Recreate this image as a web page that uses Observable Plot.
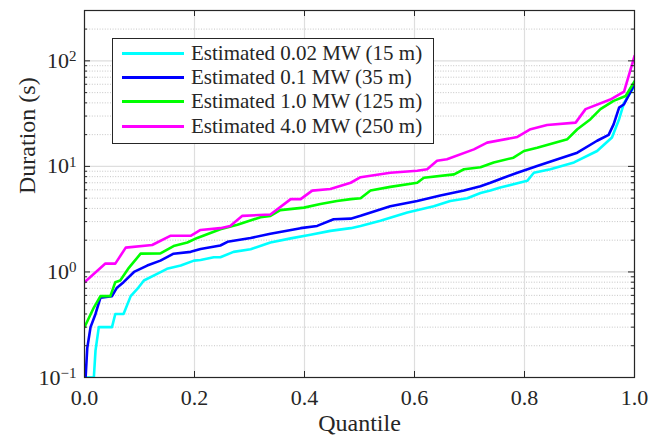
<!DOCTYPE html>
<html>
<head>
<meta charset="utf-8">
<script src="https://cdn.jsdelivr.net/npm/d3@7"></script>
<script src="https://cdn.jsdelivr.net/npm/@observablehq/plot@0.6"></script>
<style>
  html, body { margin: 0; padding: 0; background: white; }
  #wrap { position: relative; width: 649px; height: 441px; }
  #legend { position: absolute; left: 112px; top: 38px; width: 320px; height: 102px;
    border: 1px solid #262626; background: white; box-sizing: content-box;
    font-family: "Liberation Serif", "DejaVu Serif", serif; font-size: 21px; color: #262626; padding-top: 2px; }
  .row { height: 24.3px; display: flex; align-items: center; white-space: nowrap; }
  .sw { width: 62px; height: 3px; margin-left: 9px; margin-right: 7px; flex: none; }
</style>
</head>
<body>
<div id="wrap"></div>
<script>
// ---- data ----
const seriesNames = ["Estimated 0.02 MW (15 m)", "Estimated 0.1 MW (35 m)", "Estimated 1.0 MW (125 m)", "Estimated 4.0 MW (250 m)"];
const seriesColors = ["#00ffff", "#0000ff", "#00ff00", "#ff00ff"];

const qCyan = [0, 0.017, 0.02, 0.026, 0.05, 0.056, 0.071, 0.084, 0.096, 0.108, 0.132, 0.15, 0.175, 0.199, 0.211, 0.235, 0.247, 0.271, 0.302, 0.338, 0.375, 0.411, 0.447, 0.484, 0.502, 0.538, 0.587, 0.635, 0.665, 0.696, 0.72, 0.738, 0.756, 0.805, 0.817, 0.847, 0.89, 0.932, 0.959, 0.972, 0.981, 1.0];
const vCyan = [0.1, 0.1, 0.18, 0.3, 0.3, 0.4, 0.4, 0.59, 0.69, 0.83, 0.96, 1.07, 1.15, 1.28, 1.3, 1.38, 1.38, 1.55, 1.64, 1.9, 2.08, 2.25, 2.45, 2.6, 2.73, 3.05, 3.66, 4.2, 4.7, 5.0, 5.6, 5.9, 6.3, 7.3, 8.7, 9.4, 10.9, 14, 18.8, 28, 40, 58];

const qBlue = [0.002, 0.005, 0.011, 0.02, 0.029, 0.05, 0.059, 0.071, 0.09, 0.114, 0.138, 0.162, 0.193, 0.211, 0.247, 0.26, 0.302, 0.338, 0.393, 0.423, 0.453, 0.484, 0.502, 0.556, 0.605, 0.647, 0.69, 0.72, 0.738, 0.756, 0.787, 0.823, 0.86, 0.896, 0.932, 0.953, 0.962, 0.972, 0.981, 1.0];
const vBlue = [0.1, 0.19, 0.3, 0.4, 0.57, 0.59, 0.71, 0.8, 1.0, 1.15, 1.28, 1.49, 1.55, 1.65, 1.78, 1.93, 2.1, 2.3, 2.6, 2.73, 3.16, 3.2, 3.4, 4.2, 4.7, 5.3, 5.9, 6.5, 7.0, 7.6, 8.7, 10.1, 11.7, 13.5, 17.5, 19.9, 25, 36, 38.8, 60];

const qGreen = [0, 0.017, 0.029, 0.047, 0.056, 0.065, 0.081, 0.102, 0.138, 0.162, 0.187, 0.205, 0.235, 0.247, 0.278, 0.32, 0.338, 0.356, 0.399, 0.429, 0.459, 0.484, 0.502, 0.52, 0.556, 0.605, 0.617, 0.672, 0.69, 0.72, 0.744, 0.78, 0.799, 0.823, 0.878, 0.896, 0.92, 0.938, 0.962, 0.984, 1.0];
const vGreen = [0.3, 0.46, 0.59, 0.59, 0.8, 0.83, 1.1, 1.49, 1.5, 1.76, 1.9, 2.1, 2.4, 2.54, 2.8, 3.3, 3.4, 3.85, 4.07, 4.4, 4.7, 4.9, 5.0, 5.9, 6.4, 7.0, 7.8, 8.4, 9.4, 9.8, 10.9, 12.1, 14, 15, 18.1, 22.5, 28, 34.9, 41.8, 46.5, 64];

const qMagenta = [0, 0.038, 0.056, 0.075, 0.123, 0.156, 0.193, 0.211, 0.247, 0.265, 0.287, 0.338, 0.375, 0.393, 0.414, 0.447, 0.484, 0.502, 0.556, 0.605, 0.623, 0.641, 0.659, 0.708, 0.732, 0.787, 0.811, 0.841, 0.893, 0.911, 0.956, 0.981, 1.0];
const vMagenta = [0.8, 1.2, 1.2, 1.7, 1.8, 2.2, 2.2, 2.5, 2.6, 2.73, 3.4, 3.5, 4.9, 4.9, 5.9, 6.1, 7.0, 7.9, 8.7, 9.1, 9.4, 11.3, 11.7, 14.5, 16.8, 19, 22.5, 24.7, 26, 34.9, 43, 51, 111];

const xTicks = [0, 0.2, 0.4, 0.6, 0.8, 1.0];
const yMajor = [0.1, 1, 10, 100];
const yTickLabels = ["10^−1", "10^0", "10^1", "10^2"];
const yMinor = [0.2,0.3,0.4,0.5,0.6,0.7,0.8,0.9, 2,3,4,5,6,7,8,9, 20,30,40,50,60,70,80,90, 200];

// ---- build ----
const qs = [qCyan, qBlue, qGreen, qMagenta];
const vs = [vCyan, vBlue, vGreen, vMagenta];
const rows = [];
qs.forEach((q, s) => q.forEach((x, i) => rows.push({series: seriesNames[s], q: x, v: vs[s][i]})));

const W = 649, H = 441, mL = 84, mR = 15, mT = 10, mB = 64;
const pw = W - mL - mR, ph = H - mT - mB;
const ink = "#262626";
const serif = "Liberation Serif, DejaVu Serif, serif";

const chart = Plot.plot({
  width: W, height: H,
  marginLeft: mL, marginRight: mR, marginTop: mT, marginBottom: mB,
  style: {fontFamily: serif, fontSize: "22px", color: ink, background: "white"},
  x: {domain: [0, 1]},
  y: {type: "log", domain: [0.1, 300]},
  color: {domain: seriesNames, range: seriesColors},
  marks: [
    Plot.ruleY(yMinor, {stroke: "#b8b8b8", strokeWidth: 0.8, strokeDasharray: "1,1.6"}),
    Plot.ruleY(yMajor, {stroke: "#dedede", strokeWidth: 1.2}),
    Plot.ruleX(xTicks, {stroke: "#dedede", strokeWidth: 1.2}),
    Plot.line(rows, {x: "q", y: "v", z: "series", stroke: "series", strokeWidth: 2.6, clip: true}),
    // inward tick marks
    Plot.tickX(xTicks, {x: d => d, insetTop: ph - 6, stroke: ink}),
    Plot.tickX(xTicks, {x: d => d, insetBottom: ph - 6, stroke: ink}),
    Plot.tickY(yMajor, {y: d => d, insetRight: pw - 6, stroke: ink}),
    Plot.tickY(yMajor, {y: d => d, insetLeft: pw - 6, stroke: ink}),
    Plot.tickY(yMinor, {y: d => d, insetRight: pw - 3, stroke: ink}),
    Plot.tickY(yMinor, {y: d => d, insetLeft: pw - 3, stroke: ink}),
    Plot.frame({stroke: ink, strokeWidth: 1.2}),
    Plot.axisX(xTicks, {tickSize: 0, tickPadding: 12, tickFormat: d3.format(".1f"), fontSize: 22, fontFamily: serif, label: null}),
    Plot.axisY(yMajor, {tickSize: 0, tickPadding: 8, tickFormat: (d) => yTickLabels[yMajor.indexOf(d)], fontSize: 22, fontFamily: serif, label: null}),
    Plot.text(["Quantile"], {text: d => d, frameAnchor: "bottom", dy: 53, fontSize: 24, fontFamily: serif}),
    Plot.text(["Duration (s)"], {text: d => d, frameAnchor: "left", dx: -57, rotate: -90, fontSize: 24, fontFamily: serif})
  ]
});

// superscripts for log tick labels
const svgNS = "http://www.w3.org/2000/svg";
chart.querySelectorAll('g[aria-label="y-axis tick label"] text').forEach(t => {
  const s = t.textContent;
  if (!s.includes("^")) return;
  const [b, e] = s.split("^");
  t.textContent = b;
  const ts = document.createElementNS(svgNS, "tspan");
  ts.setAttribute("dy", "-0.45em");
  ts.setAttribute("font-size", "15");
  ts.textContent = e;
  t.appendChild(ts);
});

const wrap = document.getElementById("wrap");
wrap.appendChild(chart);

// legend
const leg = document.createElement("div");
leg.id = "legend";
seriesNames.forEach((n, i) => {
  const r = document.createElement("div");
  r.className = "row";
  const sw = document.createElement("div");
  sw.className = "sw";
  sw.style.background = seriesColors[i];
  const tx = document.createElement("span");
  tx.textContent = n;
  r.appendChild(sw); r.appendChild(tx);
  leg.appendChild(r);
});
wrap.appendChild(leg);
</script>
</body>
</html>
